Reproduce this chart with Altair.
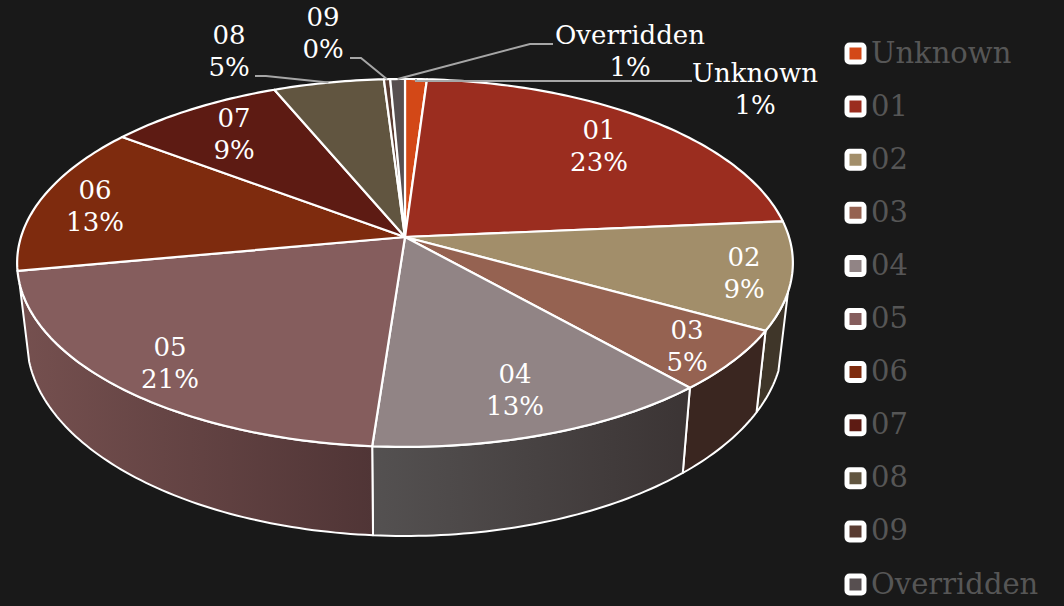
import math
import altair as alt
import pandas as pd

names = ["Unknown", "01", "02", "03", "04", "05", "06", "07", "08", "09", "Overridden"]
values = [1.04, 22.56, 9.45, 5.4, 12.72, 20.9, 13.2, 8.45, 5.28, 0.3, 0.7]
percent = ["1%", "23%", "9%", "5%", "13%", "21%", "13%", "9%", "5%", "0%", "1%"]
colors = ["#D34817", "#9B2D1F", "#A28E6A", "#956251", "#918485", "#855D5D",
          "#7E2B0E", "#5D1B13", "#615540", "#593B31", "#574F50"]

# layout of the tilted pie (page pixels)
CX, CY, AX, BY, P = 405.0, 237.0, 384.0, 180.3, 0.141
WALL_DY, WALL_SX, WALL_SY = 75.4, 0.975, 1.065
WALL_FROM, WALL_TO = 107.0, 255.6
FONT = "DejaVu Serif"
BG = "#191919"
ROUNDED_SQUARE = ("M-0.7,-1 H0.7 A0.3,0.3 0 0 1 1,-0.7 V0.7 A0.3,0.3 0 0 1 0.7,1 "
                  "H-0.7 A0.3,0.3 0 0 1 -1,0.7 V-0.7 A0.3,0.3 0 0 1 -0.7,-1 Z")
WALL_STYLE = {
    "02": "#3F3629",
    "03": "#3A2620",
    "04": {"gradient": "linear", "x1": 0, "x2": 1, "y1": 0, "y2": 0,
           "stops": [{"offset": 0, "color": "#545151"}, {"offset": 1, "color": "#3B3434"}]},
    "05": {"gradient": "linear", "x1": 0, "x2": 1, "y1": 0, "y2": 0,
           "stops": [{"offset": 0, "color": "#75504F"}, {"offset": 1, "color": "#503536"}]},
}
# label centres and leader elbows
label_pos = {"Unknown": (755, 74), "01": (599, 131), "02": (744, 258), "03": (687, 331),
             "04": (515, 375), "05": (170, 348), "06": (95, 191), "07": (234, 119),
             "08": (229, 36), "09": (323, 18), "Overridden": (630, 36)}
leader_path = {"Unknown": [(692, 81), (416, 81)],
               "Overridden": [(553, 44), (530, 44)],
               "08": [(255, 76), (266, 76)],
               "09": [(350, 58), (361, 58)]}


def top(theta):
    t = math.radians(theta)
    w = 1 + P * math.cos(t)
    return CX + AX * math.sin(t) / w, CY - BY * math.cos(t) / w


def bottom(theta):
    x, y = top(theta)
    return CX + WALL_SX * (x - CX), CY + WALL_DY + WALL_SY * (y - CY)


total = sum(values)
edges = [0.0]
for v in values:
    edges.append(edges[-1] + v / total * 360)


def arc(a, b, fn):
    n = max(2, int(abs(b - a)) + 2)
    return [fn(a + (b - a) * i / (n - 1)) for i in range(n)]


top_rows, wall_layers = [], []
for i, name in enumerate(names):
    a, b = edges[i], edges[i + 1]
    pts = [(CX, CY)] + arc(a, b, top) + [(CX, CY)]
    top_rows += [{"name": name, "k": k, "x": p[0], "y": p[1]} for k, p in enumerate(pts)]

W, H = 1064, 606
xs = alt.Scale(domain=[0, W], range=[0, W])
ys = alt.Scale(domain=[0, H], range=[0, H])
X = alt.X("x:Q", scale=xs, axis=None)
Y = alt.Y("y:Q", scale=ys, axis=None)

for i, name in enumerate(names):
    a, b = max(edges[i], WALL_FROM), min(edges[i + 1], WALL_TO)
    if b <= a:
        continue
    pts = arc(a, b, top) + arc(b, a, bottom)
    pts.append(pts[0])
    df = pd.DataFrame([{"k": k, "x": p[0], "y": p[1]} for k, p in enumerate(pts)])
    wall_layers.append(
        alt.Chart(df).mark_line(filled=True, fill=WALL_STYLE[name], stroke="white",
                                strokeWidth=2, strokeJoin="round")
        .encode(x=X, y=Y, order="k:Q")
    )

tops = alt.Chart(pd.DataFrame(top_rows)).mark_line(
    filled=True, stroke="white", strokeWidth=2.2, strokeJoin="round"
).encode(
    x=X, y=Y, order="k:Q", detail="name:N",
    color=alt.Color(
        "name:N",
        scale=alt.Scale(domain=names, range=colors),
        sort=names,
        legend=alt.Legend(
            title=None, orient="none", legendX=841, legendY=39, padding=0,
            symbolType=ROUNDED_SQUARE, symbolSize=289, symbolStrokeWidth=5,
            symbolStrokeColor="white", labelFont=FONT, labelFontSize=29,
            labelColor="#565656", labelOffset=1, rowPadding=16.1, labelLimit=220,
            symbolOpacity=1, values=names,
        ),
    ),
)

leader_rows = []
for name, path in leader_path.items():
    i = names.index(name)
    pts = list(path) + [top((edges[i] + edges[i + 1]) / 2)]
    leader_rows += [{"name": name, "k": k, "x": p[0], "y": p[1]} for k, p in enumerate(pts)]
leaders = alt.Chart(pd.DataFrame(leader_rows)).mark_line(
    color="#A6A6A6", strokeWidth=2
).encode(x=X, y=Y, order="k:Q", detail="name:N")

label_df = pd.DataFrame([
    {"t": f"{n}\n{p}", "x": label_pos[n][0], "y": label_pos[n][1]}
    for n, p in zip(names, percent)
])
labels = alt.Chart(label_df).mark_text(
    font=FONT, fontSize=26, color="white", lineBreak="\n", lineHeight=32,
    align="center", baseline="middle"
).encode(x=X, y=Y, text="t:N")

chart = alt.layer(*wall_layers, tops, leaders, labels).properties(
    width=W, height=H, padding=0, background=BG,
    autosize=alt.AutoSizeParams(type="none"),
).configure_view(stroke=None)

chart.save("out.html", embed_options={
    "renderer": "svg", "actions": False,
    "defaultStyle": "html,body{background:" + BG + ";overflow:hidden;margin:0}",
})
